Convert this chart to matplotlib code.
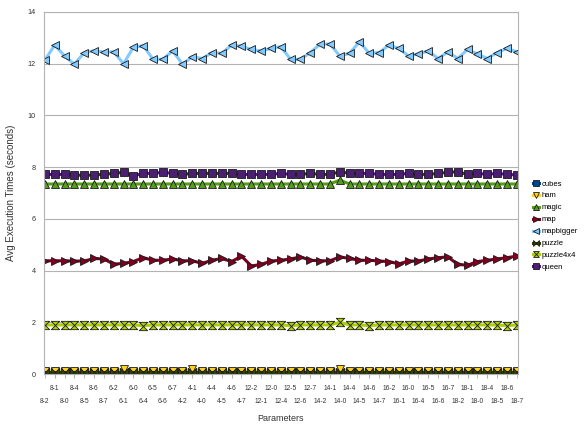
import matplotlib
matplotlib.use("Agg")
import matplotlib.pyplot as plt
from matplotlib.path import Path
import numpy as np

plt.rcParams['font.family'] = ['Liberation Sans', 'DejaVu Sans']

# parameter combinations along the x axis
groups = ["8", "6", "4", "12", "14", "16", "18"]
suffixes = ["2", "1", "0", "4", "5", "6", "7"]
params = [g + "-" + s for g in groups for s in suffixes]

cubes = [0.05] * 49
ham = [0.1, 0.1, 0.1, 0.1, 0.1, 0.1, 0.1, 0.1, 0.18, 0.1, 0.1, 0.1, 0.1, 0.1, 0.1, 0.18, 0.1,
       0.1, 0.1, 0.1, 0.1, 0.1, 0.1, 0.1, 0.1, 0.1, 0.1, 0.1, 0.1, 0.1, 0.2, 0.1, 0.1, 0.1,
       0.1, 0.1, 0.1, 0.1, 0.1, 0.1, 0.1, 0.1, 0.1, 0.1, 0.1, 0.1, 0.1, 0.1, 0.1]
puzzle = [0.07] * 49
magic = [7.35] * 30 + [7.5] + [7.35] * 18
puzzle4x4 = [1.9, 1.9, 1.9, 1.9, 1.9, 1.9, 1.9, 1.9, 1.9, 1.9, 1.87, 1.9, 1.9, 1.9, 1.9, 1.9, 1.9,
             1.9, 1.9, 1.9, 1.9, 1.9, 1.9, 1.9, 1.9, 1.87, 1.9, 1.9, 1.9, 1.9, 2.0, 1.9, 1.9, 1.87,
             1.9, 1.9, 1.9, 1.9, 1.9, 1.9, 1.9, 1.9, 1.9, 1.9, 1.9, 1.9, 1.9, 1.87, 1.9]
map_ = [4.38, 4.38, 4.38, 4.37, 4.37, 4.47, 4.45, 4.25, 4.28, 4.35, 4.5, 4.4, 4.4, 4.45, 4.38,
        4.38, 4.28, 4.4, 4.47, 4.35, 4.56, 4.18, 4.24, 4.37, 4.4, 4.45, 4.53, 4.4, 4.38, 4.38,
        4.53, 4.47, 4.4, 4.4, 4.37, 4.35, 4.26, 4.37, 4.37, 4.45, 4.5, 4.53, 4.24, 4.21, 4.35,
        4.4, 4.45, 4.5, 4.56]
mapbigger = [12.14, 12.72, 12.3, 11.98, 12.43, 12.5, 12.45, 12.46, 12.0, 12.63, 12.7, 12.17,
             12.17, 12.5, 11.98, 12.27, 12.2, 12.43, 12.4, 12.72, 12.68, 12.55, 12.49, 12.59,
             12.66, 12.17, 12.17, 12.43, 12.76, 12.76, 12.3, 12.4, 12.85, 12.4, 12.43, 12.72,
             12.59, 12.3, 12.38, 12.49, 12.2, 12.46, 12.2, 12.55, 12.38, 12.2, 12.43, 12.59, 12.46]
queen = [7.72, 7.72, 7.72, 7.7, 7.68, 7.7, 7.72, 7.76, 7.8, 7.66, 7.76, 7.76, 7.8, 7.76, 7.72,
         7.76, 7.76, 7.76, 7.76, 7.76, 7.72, 7.72, 7.72, 7.72, 7.76, 7.72, 7.72, 7.76, 7.72, 7.72,
         7.82, 7.76, 7.76, 7.76, 7.72, 7.72, 7.72, 7.76, 7.72, 7.72, 7.76, 7.8, 7.82, 7.72, 7.76,
         7.72, 7.76, 7.72, 7.7]

bowtie = Path([(-1, 1), (1, -1), (1, 1), (-1, -1), (-1, 1)],
              [Path.MOVETO, Path.LINETO, Path.LINETO, Path.LINETO, Path.CLOSEPOLY])
hourglass = Path([(-1, 1), (1, 1), (-1, -1), (1, -1), (-1, 1)],
                 [Path.MOVETO, Path.LINETO, Path.LINETO, Path.LINETO, Path.CLOSEPOLY])

series = [
    ("cubes", cubes, "#004586", "s"),
    ("ham", ham, "#ffd320", "v"),
    ("magic", magic, "#579d1c", "^"),
    ("map", map_, "#7e0021", ">"),
    ("mapbigger", mapbigger, "#83caff", "<"),
    ("puzzle", puzzle, "#314004", bowtie),
    ("puzzle4x4", puzzle4x4, "#aecf00", hourglass),
    ("queen", queen, "#4b1f6f", "s"),
]

fig = plt.figure(figsize=(5.85, 4.28), dpi=100)
ax = fig.add_axes([0.075, 0.126, 0.81, 0.846])

x = np.arange(len(params))
for name, vals, col, mk in series:
    ax.plot(x, vals, color=col, lw=2.2, marker=mk, markersize=6,
            markerfacecolor=col, markeredgecolor="#1a1a1a", markeredgewidth=0.6, label=name)

ax.set_xlim(-0.1, 48.1)
ax.set_ylim(0, 14)
ax.set_yticks(range(0, 15, 2))
ax.grid(axis="y", color="#b3b3b3", lw=0.8)
ax.set_axisbelow(True)
for sp in ax.spines.values():
    sp.set_color("#b3b3b3")
    sp.set_linewidth(0.8)

# staggered category labels: odd ones on the upper row, even ones below
ax.set_xticks(x[1::2])
ax.set_xticklabels(params[1::2], fontsize=4.8, color="#333333")
ax.set_xticks(x[0::2], minor=True)
ax.set_xticklabels(params[0::2], minor=True, fontsize=4.8, color="#333333")
ax.tick_params(axis="x", which="major", length=3, color="#b3b3b3", pad=5)
ax.tick_params(axis="x", which="minor", length=3, color="#b3b3b3", pad=14)
ax.tick_params(axis="y", length=0, labelsize=5.2, labelcolor="#333333", pad=6)

ax.set_xlabel("Parameters", fontsize=6.5, color="#333333", labelpad=7)
ax.set_ylabel("Avg Execution Times (seconds)", fontsize=7, color="#333333", labelpad=8)

ax.legend(loc="upper left", bbox_to_anchor=(0.9, 0.595), bbox_transform=fig.transFigure,
          frameon=False, fontsize=5.5, handlelength=0.8, handletextpad=0.3,
          labelspacing=0.6, markerscale=0.7)

fig.savefig("out.png", dpi=100)
